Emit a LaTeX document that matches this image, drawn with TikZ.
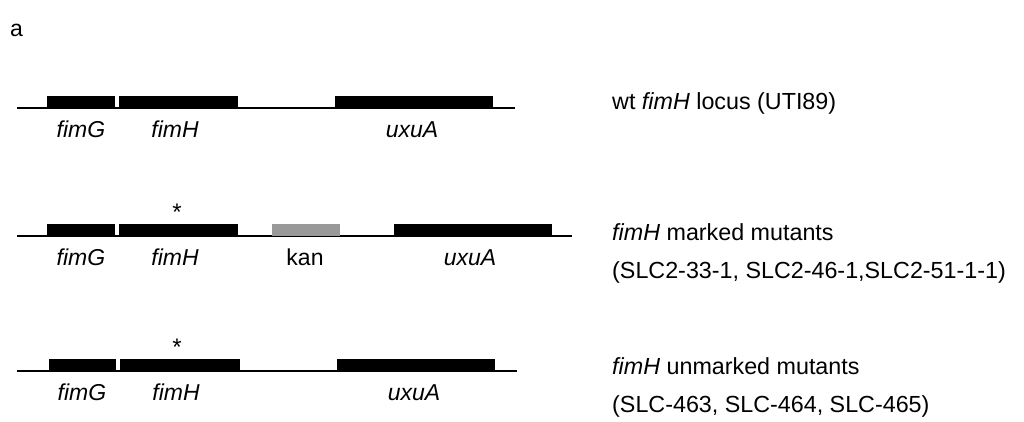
\documentclass[tikz,border=0pt]{standalone}
\usepackage{fontspec}
\setmainfont{Liberation Sans}
\begin{document}
\begin{tikzpicture}[x=1pt,y=-1pt,
  gene/.style={fill=black,draw=none},
  kanbox/.style={fill=black!40,draw=none},
  lab/.style={font=\fontsize{23}{26}\selectfont\itshape,anchor=base,inner sep=0pt},
  rt/.style={font=\fontsize{23.3}{26}\selectfont,anchor=base west,inner sep=0pt},
  ast/.style={font=\fontsize{24}{26}\selectfont,inner sep=0pt},
  chr/.style={line width=1.2pt}]
\useasboundingbox (0,0) rectangle (1024,422);
\node[font=\fontsize{23}{26}\selectfont,anchor=base west,inner sep=0pt] (a) at (10,37) {a};
% row 1
\coordinate (l1a) at (17,108); \coordinate (l1b) at (515,108);
\draw[chr] (l1a) -- (l1b);
\fill[gene] (47,96) rectangle (115,108);
\fill[gene] (119,96) rectangle (238,108);
\fill[gene] (335,96) rectangle (493,108);
\node[lab] (g1) at (81,138) {fimG};
\node[lab] (h1) at (175,138) {fimH};
\node[lab] (u1) at (412,138) {uxuA};
\node[rt] (t1) at (612,110) {wt \textit{fimH} locus (UTI89)};
% row 2
\coordinate (l2a) at (17,236); \coordinate (l2b) at (572,236);
\draw[chr] (l2a) -- (l2b);
\fill[gene] (47,224) rectangle (115,236);
\fill[gene] (119,224) rectangle (238,236);
\fill[kanbox] (272,224) rectangle (340,236);
\fill[gene] (394,224) rectangle (552,236);
\node[ast] (s2) at (177,212) {*};
\node[lab] (g2) at (81,265) {fimG};
\node[lab] (h2) at (175,265) {fimH};
\node[lab,font=\fontsize{23}{26}\selectfont] (k2) at (305,265) {kan};
\node[lab] (u2) at (470,265) {uxuA};
\node[rt] (t2) at (612,240) {\textit{fimH} marked mutants};
\node[rt] (t2b) at (612,278) {(SLC2-33-1, SLC2-46-1,SLC2-51-1-1)};
% row 3
\coordinate (l3a) at (17,371); \coordinate (l3b) at (517,371);
\draw[chr] (l3a) -- (l3b);
\fill[gene] (49,359) rectangle (116,371);
\fill[gene] (120,359) rectangle (240,371);
\fill[gene] (337,359) rectangle (495,371);
\node[ast] (s3) at (177,347) {*};
\node[lab] (g3) at (82,400) {fimG};
\node[lab] (h3) at (176,400) {fimH};
\node[lab] (u3) at (414,400) {uxuA};
\node[rt] (t3) at (612,374) {\textit{fimH} unmarked mutants};
\node[rt] (t3b) at (612,412) {(SLC-463, SLC-464, SLC-465)};
\end{tikzpicture}
\end{document}
